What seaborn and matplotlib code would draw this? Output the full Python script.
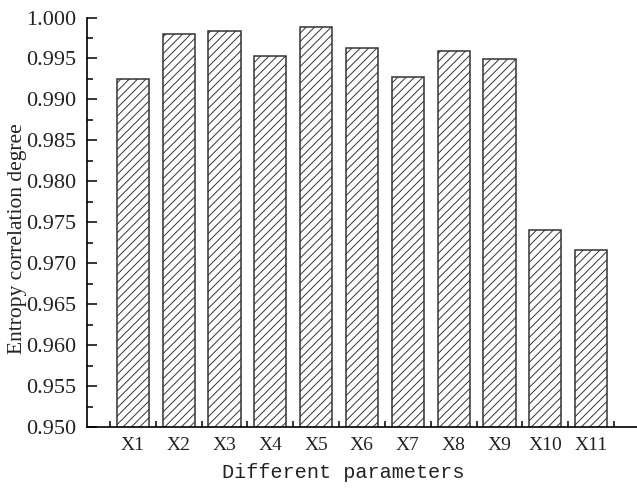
import matplotlib
matplotlib.use("Agg")
import matplotlib.pyplot as plt
import seaborn as sns
import pandas as pd
from matplotlib.ticker import MultipleLocator, FixedLocator, FormatStrFormatter

categories = ["X1", "X2", "X3", "X4", "X5", "X6", "X7", "X8", "X9", "X10", "X11"]
values = [0.99246, 0.99802, 0.99832, 0.99527, 0.99884, 0.99624, 0.99278, 0.99588, 0.99490, 0.97404, 0.97160]
y_label = "Entropy correlation degree"
x_label = "Different parameters"

sns.set_theme(style="ticks")
plt.rcParams["hatch.linewidth"] = 0.7
plt.rcParams["xtick.direction"] = "in"
plt.rcParams["ytick.direction"] = "in"
plt.rcParams["font.family"] = ["Liberation Serif", "DejaVu Serif"]

df = pd.DataFrame({"param": categories, "value": values})

fig = plt.figure(figsize=(6.37, 4.88), dpi=100)
ax = fig.add_axes([0.1366, 0.1244, 0.8634, 0.8397])

sns.barplot(data=df, x="param", y="value", ax=ax, color="white",
            edgecolor="#333333", linewidth=1.1, hatch="////", width=0.7,
            saturation=1)
for p in ax.patches:
    p.set_facecolor("white")
    p.set_edgecolor("#333333")

ax.set_ylim(0.950, 1.000)
ax.set_xlim(-1, 11)
ax.yaxis.set_major_locator(MultipleLocator(0.005))
ax.yaxis.set_minor_locator(MultipleLocator(0.0025))
ax.yaxis.set_major_formatter(FormatStrFormatter("%.3f"))
ax.xaxis.set_minor_locator(FixedLocator([i - 0.5 for i in range(len(categories) + 1)]))

ax.tick_params(axis="both", which="major", direction="in", length=7, width=1.1, color="black")
ax.tick_params(axis="both", which="minor", direction="in", length=4, width=1.1, color="black")
ax.tick_params(axis="y", which="major", labelsize=16, pad=8, labelcolor="#222222")
ax.tick_params(axis="x", which="major", labelsize=14, pad=7, labelcolor="#222222")

ax.set_ylabel(y_label, fontsize=15.5, family=["Liberation Serif"], color="#222222")
ax.yaxis.label.set_verticalalignment("center")
ax.yaxis.set_label_coords((17 - 87) / 550.0, 0.461)
ax.set_xlabel(x_label, fontsize=14.5, family=["Liberation Mono"], color="#222222")
ax.xaxis.label.set_verticalalignment("center")
ax.xaxis.set_label_coords((343 - 87) / 550.0, -0.111)

sns.despine(ax=ax, top=True, right=True)
for s in ["left", "bottom"]:
    ax.spines[s].set_linewidth(1.2)
    ax.spines[s].set_color("black")

fig.savefig("out.png", dpi=100)
